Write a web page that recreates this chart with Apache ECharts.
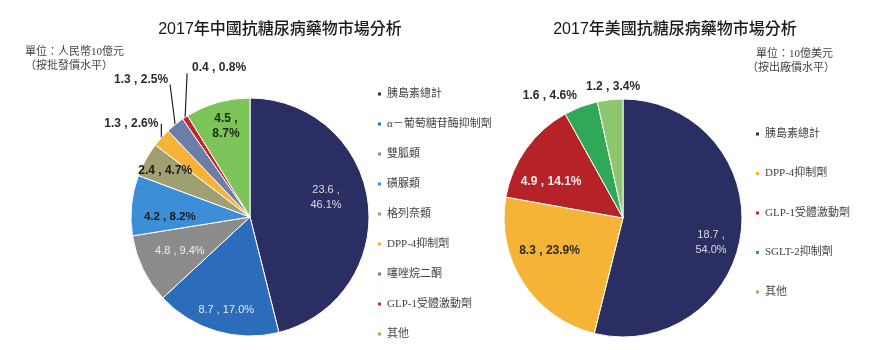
<!DOCTYPE html>
<html>
<head>
<meta charset="utf-8">
<script src="https://cdn.jsdelivr.net/npm/echarts@6/dist/echarts.min.js"></script>
<style>
html,body{margin:0;padding:0;background:#fff;}
#chart{width:874px;height:350px;}
</style>
</head>
<body>
<div id="chart"></div>
<script>
// ---- Data ----
const leftTitle = '2017年中國抗糖尿病藥物市場分析';
const rightTitle = '2017年美國抗糖尿病藥物市場分析';
const leftUnit = ['單位：人民幣10億元', '（按批發價水平）'];
const rightUnit = ['單位：10億美元', '（按出廠價水平）'];

const leftCategories = ['胰島素總計', 'α－葡萄糖苷酶抑制劑', '雙胍類', '磺脲類', '格列奈類', 'DPP-4抑制劑', '噻唑烷二酮', 'GLP-1受體激動劑', '其他'];
const leftValues = [23.6, 8.7, 4.8, 4.2, 2.4, 1.3, 1.3, 0.4, 4.5];
const leftPercents = ['46.1', '17.0', '9.4', '8.2', '4.7', '2.6', '2.5', '0.8', '8.7'];

const rightCategories = ['胰島素總計', 'DPP-4抑制劑', 'GLP-1受體激動劑', 'SGLT-2抑制劑', '其他'];
const rightValues = [18.7, 8.3, 4.9, 1.6, 1.2];
const rightPercents = ['54.0', '23.9', '14.1', '4.6', '3.4'];

// ---- Styles ----
const leftColors = ['#2b2e62', '#2b6dbb', '#8b8b8b', '#3c8fd6', '#a09f72', '#f6b335', '#6a7ea8', '#c1272d', '#7cc35a'];
const rightColors = ['#2b2e62', '#f5b435', '#b52328', '#2fa858', '#8dc66c'];

// label placement (style): kind, offsets, text color, bold, multiline
const leftLabelStyle = [
  {kind: 'in', dx: 14, dy: -12, color: '#dcdcdc', bold: false, multi: true, lh: 15},
  {kind: 'in', dx: -6, dy: 33, color: '#e6e6e6', bold: false},
  {kind: 'in', dx: -14, dy: 7, color: '#eeeeee', bold: false},
  {kind: 'in', dx: -18, dy: 6, color: '#1a1a1a', bold: true, fs: 11.5},
  {kind: 'in', dx: -30, dy: -16, color: '#1a1a1a', bold: true, fs: 12},
  {kind: 'out', bx: 0, by: -14, lx: -3, ly: 0, align: 'right'},
  {kind: 'out', bx: -5, by: -40, lx: -2, ly: -5, align: 'right'},
  {kind: 'out', bx: 2, by: -44, lx: 5, ly: -6, align: 'left'},
  {kind: 'in', dx: -7, dy: -31, color: '#1a2a14', bold: true, multi: true, lh: 15, fs: 12}
];
const rightLabelStyle = [
  {kind: 'in', dx: 26, dy: 17, color: '#dcdcdc', bold: false, multi: true, lh: 15},
  {kind: 'in', dx: -21, dy: -1, color: '#2a2a2a', bold: true, fs: 12},
  {kind: 'in', dx: -21, dy: 0, color: '#eeeeee', bold: true, fs: 12},
  {kind: 'out', hideLine: true, bx: -31, by: -11, lx: 0, ly: 0, align: 'center'},
  {kind: 'out', hideLine: true, bx: 3, by: -13, lx: 0, ly: 0, align: 'center'}
];

function buildData(cats, vals, pcts, colors, lstyle) {
  return cats.map((c, i) => {
    const s = lstyle[i];
    const txt = s.multi ? (vals[i].toFixed(1) + ' ,\n' + pcts[i] + '%') : (vals[i].toFixed(1) + ' , ' + pcts[i] + '%');
    return {
      name: c,
      value: vals[i],
      itemStyle: {color: colors[i]},
      label: {
        show: true,
        formatter: txt,
        position: s.kind === 'in' ? 'inside' : 'outside',
        color: s.kind === 'in' ? s.color : '#2a2a2a',
        fontWeight: s.kind === 'in' ? (s.bold ? 'bold' : 'normal') : 'bold',
        fontSize: s.kind === 'in' ? (s.fs || 11) : 12,
        lineHeight: s.lh || 14
      },
      labelLine: {
        show: s.kind === 'out',
        length: 10, length2: 5,
        lineStyle: {color: '#222', width: 1.2, opacity: s.hideLine ? 0 : 1}
      }
    };
  });
}

function makeLayout(lstyle) {
  return function (p) {
    const s = lstyle[p.dataIndex];
    if (!s) return {};
    if (s.kind === 'in') {
      const r = p.labelRect;
      return {
        x: r.x + r.width / 2 + s.dx,
        y: r.y + r.height / 2 + s.dy,
        align: 'center',
        verticalAlign: 'middle'
      };
    }
    const pts = p.labelLinePoints;
    if (!pts) return {};
    const A = pts[0];
    const B = [A[0] + s.bx, A[1] + s.by];
    return {
      x: B[0] + s.lx,
      y: B[1] + s.ly,
      align: s.align,
      verticalAlign: 'middle',
      labelLinePoints: [A, B, B]
    };
  };
}

const serifFont = "'Liberation Serif', 'Noto Sans CJK TC', serif";
const sansFont = "'Liberation Sans', Arial, 'Noto Sans CJK TC', sans-serif";
const titleFont = "'Liberation Sans', 'Noto Sans CJK TC', sans-serif";

const chart = echarts.init(document.getElementById('chart'), null, {renderer: 'canvas'});
const option = {
  backgroundColor: '#ffffff',
  animation: false,
  title: [
    {text: leftTitle, left: 275, top: 17, textAlign: 'center',
     textStyle: {fontSize: 16, fontWeight: 500, color: '#1a1a1a', fontFamily: titleFont}},
    {text: rightTitle, left: 670, top: 17, textAlign: 'center',
     textStyle: {fontSize: 16, fontWeight: 500, color: '#1a1a1a', fontFamily: titleFont}},
    {text: leftUnit.join('\n'), left: 20, top: 40,
     textStyle: {fontSize: 11, fontWeight: 'normal', color: '#444', lineHeight: 14, fontFamily: serifFont}},
    {text: rightUnit[0], left: 828, top: 42, textAlign: 'right',
     textStyle: {fontSize: 11, fontWeight: 'normal', color: '#444', lineHeight: 14, fontFamily: serifFont}},
    {text: rightUnit[1], left: 830, top: 56, textAlign: 'right',
     textStyle: {fontSize: 11, fontWeight: 'normal', color: '#444', lineHeight: 14, fontFamily: serifFont}}
  ],
  legend: [
    {
      data: leftCategories, orient: 'vertical', left: 371, top: 82,
      icon: 'rect', itemWidth: 5, itemHeight: 5, itemGap: 16,
      selectedMode: false,
      textStyle: {fontSize: 11, color: '#444', lineHeight: 14, fontFamily: serifFont}
    },
    {
      data: rightCategories, orient: 'vertical', left: 749, top: 122,
      icon: 'rect', itemWidth: 5, itemHeight: 5, itemGap: 25.5,
      selectedMode: false,
      textStyle: {fontSize: 11, color: '#444', lineHeight: 14, fontFamily: serifFont}
    }
  ],
  series: [
    {
      type: 'pie', center: [250, 217], radius: 119, startAngle: 90, clockwise: true,
      avoidLabelOverlap: false,
      itemStyle: {borderColor: '#ffffff', borderWidth: 1},
      label: {fontSize: 11, fontFamily: sansFont},
      emphasis: {disabled: true},
      labelLayout: makeLayout(leftLabelStyle),
      data: buildData(leftCategories, leftValues, leftPercents, leftColors, leftLabelStyle)
    },
    {
      type: 'pie', center: [623, 218], radius: 119, startAngle: 90, clockwise: true,
      avoidLabelOverlap: false,
      itemStyle: {borderColor: '#ffffff', borderWidth: 1},
      label: {fontSize: 11, fontFamily: sansFont},
      emphasis: {disabled: true},
      labelLayout: makeLayout(rightLabelStyle),
      data: buildData(rightCategories, rightValues, rightPercents, rightColors, rightLabelStyle)
    }
  ]
};
chart.setOption(option);
</script>
</body>
</html>
